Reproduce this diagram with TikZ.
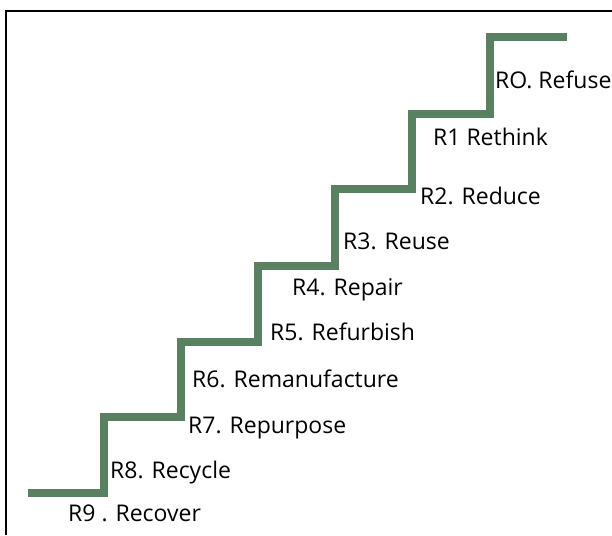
\documentclass[tikz,border=0pt]{standalone}
\usepackage{fontspec}
\setmainfont{Open Sans}
\definecolor{stairgreen}{RGB}{90,128,98}
\tikzset{
  stairline/.style={line width=8pt, color=stairgreen, line join=miter},
  steplabel/.style={anchor=base west, inner sep=0pt, font=\fontsize{23}{27}\selectfont},
}
\begin{document}
\begin{tikzpicture}[x=1pt,y=1pt]
		\useasboundingbox (0,0) rectangle (612,535);
		%marco
		\draw [line width=2pt] (6,0) -- (6,524) -- (612,524);
		%%%% ESCALERA
		\draw [stairline] (28,42) -- (104,42) -- (104,118) -- (181,118)
			-- (181,193) -- (258,193) -- (258,269) -- (335,269)
			-- (335,346) -- (412,346) -- (412,421) -- (490,421)
			-- (490,498) -- (567,498);
		
		\node[steplabel] at (495,446) (rcero) {RO. Refuse};
		\node[steplabel] at (433,389) (runo) {R1 Rethink};
		\node[steplabel] at (420,330) (rdos) {R2. Reduce};
		\node[steplabel] at (343,285) (rtres) {R3. Reuse};
		\node[steplabel] at (292,239) (rcuatro) {R4. Repair};
		\node[steplabel] at (270,194) (rcinco) {R5. Refurbish};
		\node[steplabel] at (192,147) (rseis) {R6. Remanufacture};
		\node[steplabel] at (188,101) (rsiete) {R7. Repurpose};
		\node[steplabel] at (110,57) (rocho) {R8. Recycle};
		\node[steplabel] at (68,14) (rnueve) {R9 . Recover};
\end{tikzpicture}
\end{document}
